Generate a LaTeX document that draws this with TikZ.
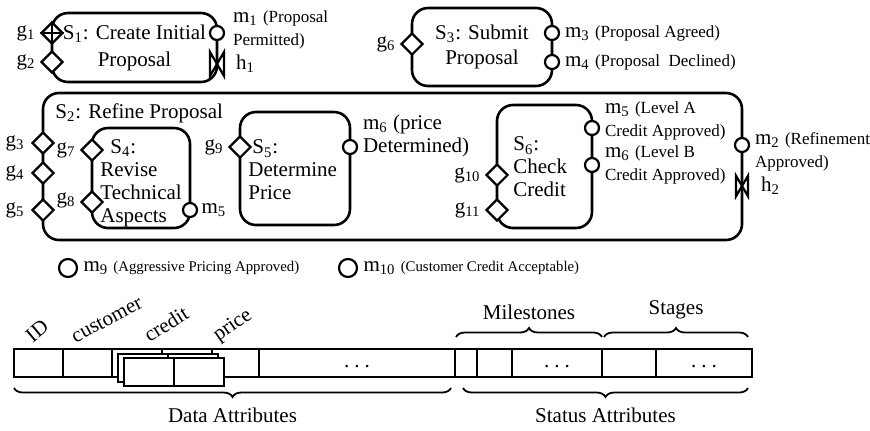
\documentclass[tikz,border=0pt]{standalone}
\usepackage{fontspec}
\setmainfont{Liberation Serif}
\usepackage{tikz}
\usetikzlibrary{positioning,shapes.geometric,decorations.pathreplacing}
\newcommand{\withsub}[2]{#1\textsubscript{#2}}
\newcommand{\mainsize}{\fontsize{10.5}{11.5}\selectfont}
\newcommand{\smallsize}{\fontsize{8.5}{11}\selectfont}
\newcommand{\tinysize}{\fontsize{7.4}{9}\selectfont}
\newcommand{\celldots}{\strut.\hspace{2.5pt}.\hspace{2.5pt}.}

\tikzset{
  stagebox/.style={draw, line width=1.3pt, rounded corners=8pt, inner sep=0pt},
  guard/.style={draw, diamond, fill=white, line width=1.1pt, minimum size=11pt, inner sep=0pt},
  milestone/.style={draw, circle, fill=white, line width=1.1pt, minimum size=7pt, inner sep=0pt},
  glbl/.style={inner sep=1pt},
  stagetext/.style={align=left, anchor=west, inner sep=0pt},
  cell/.style={draw, line width=1pt, minimum height=14pt, inner sep=0pt, outer sep=0pt, fill=white},
  attrname/.style={inner sep=0pt},
  bowtie/.pic={\draw[line width=1.1pt] (-7,-12) -- (-7,12) -- (7,-12) -- (7,12) -- cycle;},
  bracedown/.style={decorate, decoration={brace, mirror, amplitude=4.5pt}, line width=0.9pt},
  braceup/.style={decorate, decoration={brace, amplitude=4.5pt}, line width=0.9pt},
}

\begin{document}
\begin{tikzpicture}[x=0.5pt, y=-0.5pt, font=\mainsize]
\useasboundingbox (0,0) rectangle (870,430);

%% S1: create initial proposal
\node[stagebox, minimum width=82.5pt, minimum height=34.5pt, align=center] (S1) at (134.5,47.5) {\withsub{S}{1}: Create Initial\\[2pt]Proposal};
\node[guard] (g1) at (52,33) {};
\draw[line width=1.1pt] (g1.west) -- (g1.east) (g1.north) -- (g1.south);
\node[guard] (g2) at (52,62) {};
\node[milestone] (m1) at (217,33) {};
\coordinate (h1) at (217,64);
\pic at (h1) {bowtie};
\node[glbl, left=1pt of g1] (g1lbl) {\withsub{g}{1}};
\node[glbl, left=1pt of g2] (g2lbl) {\withsub{g}{2}};
\node[align=left, anchor=west] (m1lbl) at (226,30) {\withsub{m}{1} {\smallsize (Proposal}\\{\smallsize Permitted)}};
\node[right=6pt of h1] (h1lbl) {\withsub{h}{1}};

%% S3: submit proposal
\node[stagebox, minimum width=70pt, minimum height=39pt, align=center] (S3) at (482,47) {\withsub{S}{3}: Submit\\[1pt]Proposal};
\node[guard] (g6) at (412,44) {};
\node[milestone] (m3) at (552,33) {};
\node[milestone] (m4) at (552,62) {};
\node[glbl, left=1pt of g6] (g6lbl) {\withsub{g}{6}};
\node[anchor=west] (m3lbl) at (558,33) {\withsub{m}{3} {\smallsize (Proposal Agreed)}};
\node[anchor=west] (m4lbl) at (558,62) {\withsub{m}{4} {\smallsize (Proposal~ Declined)}};

%% S2: refine proposal with its sub-stages
\node[stagebox, minimum width=349.5pt, minimum height=73.5pt] (S2) at (392.5,166.5) {};
\node[stagetext] (S2text) at (55,113) {\withsub{S}{2}: Refine Proposal};
\node[guard] (g3) at (43,143) {};
\node[guard] (g4) at (43,173) {};
\node[guard] (g5) at (43,210) {};
\node[glbl, left=2pt of g3] (g3lbl) {\withsub{g}{3}};
\node[glbl, left=2pt of g4] (g4lbl) {\withsub{g}{4}};
\node[glbl, left=2pt of g5] (g5lbl) {\withsub{g}{5}};
\node[milestone] (m2) at (742,145) {};
\coordinate (h2) at (742,186);
\pic[scale=0.85] at (h2) {bowtie};
\node[align=left, anchor=west] (m2lbl) at (748,152) {\withsub{m}{2} {\smallsize (Refinement}\\{\smallsize Approved)}};
\node[right=6pt of h2] (h2lbl) {\withsub{h}{2}};

% S4
\node[stagebox, minimum width=49pt, minimum height=50pt] (S4) at (141,178) {};
\node[stagetext] (S4text) at (100,183) {\hspace*{5pt}\withsub{S}{4}:\\Revise\\Technical\\Aspects};
\node[guard] (g7) at (92,150) {};
\node[guard] (g8) at (92,202) {};
\node[milestone] (m5a) at (190,210) {};
\node[glbl, left=1pt of g7] (g7lbl) {\withsub{g}{7}};
\node[glbl, left=1pt of g8, yshift=1pt] (g8lbl) {\withsub{g}{8}};
\node[glbl, right=0.5pt of m5a] (m5albl) {\withsub{m}{5}};

% S5
\node[stagebox, minimum width=55pt, minimum height=56.5pt] (S5) at (295,168.5) {};
\node[stagetext] (S5text) at (248,170) {\hspace*{2pt}\withsub{S}{5}:\\Determine\\Price};
\node[guard] (g9) at (240,147) {};
\node[milestone] (m6a) at (350,147) {};
\node[glbl, left=1pt of g9] (g9lbl) {\withsub{g}{9}};
\node[align=left, anchor=west] (m6albl) at (356,136) {\withsub{m}{6} (price\\Determined)};

% S6
\node[stagebox, minimum width=47.5pt, minimum height=61.5pt] (S6) at (544.5,166.5) {};
\node[stagetext] (S6text) at (513,167) {\withsub{S}{6}:\\Check\\Credit};
\node[guard] (g10) at (497,175) {};
\node[guard] (g11) at (497,210) {};
\node[milestone] (m5b) at (592,128) {};
\node[milestone] (m6b) at (592,165) {};
\node[glbl, left=1pt of g10] (g10lbl) {\withsub{g}{10}};
\node[glbl, left=1pt of g11] (g11lbl) {\withsub{g}{11}};
\node[align=left, anchor=west] (m5blbl) at (598,121) {\withsub{m}{5} {\smallsize (Level A}\\{\smallsize Credit Approved)}};
\node[align=left, anchor=west] (m6blbl) at (598,165) {\withsub{m}{6} {\smallsize (Level B}\\{\smallsize Credit Approved)}};

%% milestones outside the stages
\node[milestone, minimum size=9pt] (m9) at (68,268) {};
\node[glbl, right=1.5pt of m9] (m9lbl) {\withsub{m}{9} {\tinysize (Aggressive Pricing Approved)}};
\node[milestone, minimum size=9pt] (m10) at (348,268) {};
\node[glbl, right=1.5pt of m10] (m10lbl) {\withsub{m}{10} {\tinysize (Customer Credit Acceptable)}};

%% artifact record: data attributes
\node[cell, minimum width=24.5pt, anchor=west] (cID) at (14,363) {};
\node[cell, minimum width=24.5pt, right=0pt of cID] (cCustomer) {};
\node[cell, minimum width=25pt, right=0pt of cCustomer] (cCredit) {};
\node[cell, minimum width=25pt, right=0pt of cCredit] (cPrice) {};
\node[cell, minimum width=23.5pt, right=0pt of cPrice] (cSpare) {};
\node[cell, minimum width=98pt, right=0pt of cSpare] (cMore) {\celldots};
% repeated credit/price entries
\node[cell, minimum width=25pt] (cCredit2) at ([shift={(6,4.5)}]cCredit.center) {};
\node[cell, minimum width=25pt] (cPrice2) at ([shift={(6,4.5)}]cPrice.center) {};
\node[cell, minimum width=25pt] (cCredit3) at ([shift={(12,9)}]cCredit.center) {};
\node[cell, minimum width=25pt] (cPrice3) at ([shift={(12,9)}]cPrice.center) {};
%status attributes
\node[cell, minimum width=11pt, right=0pt of cMore] (cS1) {};
\node[cell, minimum width=17.5pt, right=0pt of cS1] (cS2) {};
\node[cell, minimum width=45pt, right=0pt of cS2] (cS3) {\celldots};
\node[cell, minimum width=27pt, right=0pt of cS3] (cS4) {};
\node[cell, minimum width=48pt, right=0pt of cS4] (cS5) {\celldots};

%attribute names
\node[attrname, rotate=40] (lID) at (37,331) {ID};
\node[attrname, rotate=28] (lCustomer) at (107,320) {customer};
\node[attrname, rotate=32] (lCredit) at (166,324) {credit};
\node[attrname, rotate=35] (lPrice) at (233,326) {price};

%braces
\draw[bracedown] ([yshift=-5.5pt]cID.south west) -- ([xshift=-2pt,yshift=-5.5pt]cMore.south east) node[midway, below=6pt] (dataLbl) {Data Attributes};
\draw[bracedown] ([xshift=4pt,yshift=-5.5pt]cS1.south west) -- ([xshift=-2pt,yshift=-5.5pt]cS5.south east) node[midway, below=6pt] (statusLbl) {Status Attributes};
\draw[braceup] ([xshift=0.5pt,yshift=6pt]cS1.north west) -- ([yshift=6pt]cS3.north east) node[midway, above=5pt] (milestoneLbl) {Milestones};
\draw[braceup] ([xshift=1pt,yshift=6pt]cS4.north west) -- ([xshift=-2pt,yshift=6pt]cS5.north east) node[midway, above=5pt] (stageLbl) {Stages};
\end{tikzpicture}
\end{document}
